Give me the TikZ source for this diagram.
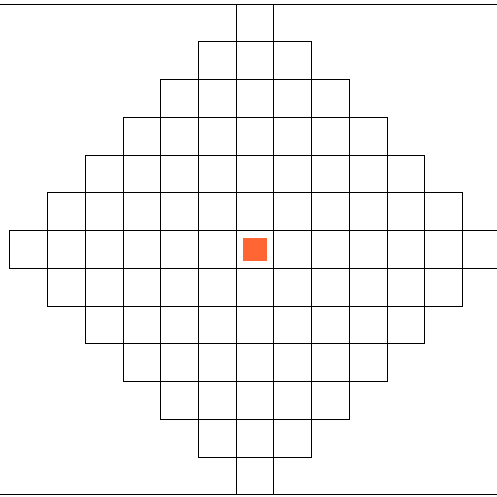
\documentclass[tikz,border=0pt]{standalone}
\usepackage{tikz}
\definecolor{centerorange}{RGB}{255, 102, 51}

\begin{document}
\begin{tikzpicture}[
      cell/.style={draw=black, line width=0.75pt,
                   minimum width=1cm, minimum height=1cm,
                   inner sep=0pt, anchor=center},
      dot/.style={fill=centerorange, draw=none,
                  minimum width=0.62cm, minimum height=0.62cm,
                  inner sep=0pt, anchor=center},
      rim/.style={draw=black, line width=0.75pt},
    ]
    \def\sz{1}
    \useasboundingbox (-6.76,-6.56) rectangle (6.40,6.61);
    %% diamond of cells, 13 rows
    \foreach \r in {0,...,12}{
      \pgfmathtruncatemacro\lo{abs(\r-6)}
      \pgfmathtruncatemacro\hi{12-abs(\r-6)}
      \foreach \c in {\lo,...,\hi}{
        \node[cell] (c\r-\c) at ({(\c-6)*\sz}, {(6-\r)*\sz}) {};
      }
    }
    %% centre marker
    \node[dot] (mid) at (c6-6) {};
    %% top and bottom rims
    \coordinate (tl) at (-6.76, 6.5);
    \coordinate (tr) at (6.40, 6.5);
    \coordinate (bl) at (-6.76, -6.5);
    \coordinate (br) at (6.40, -6.5);
    \draw[rim] (tl) -- (tr);
    \draw[rim] (bl) -- (br);
\end{tikzpicture}
\end{document}
